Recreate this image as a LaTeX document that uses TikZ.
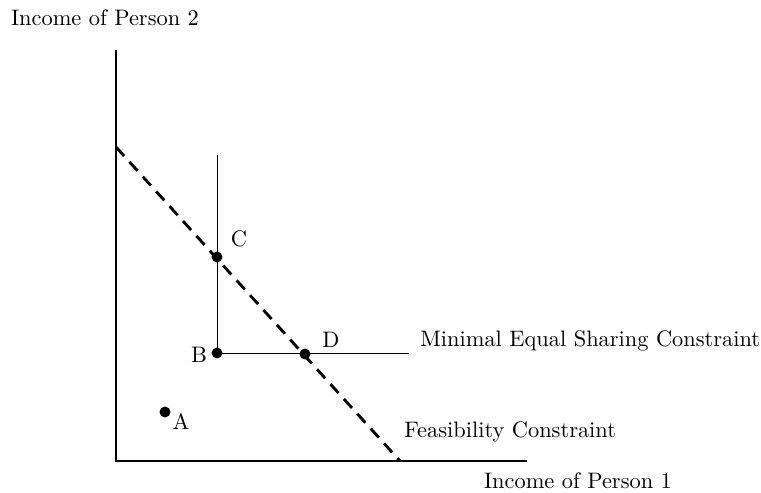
\documentclass[tikz,border=0pt]{standalone}
\usetikzlibrary{positioning}
\begin{document}
\begin{tikzpicture}[
        x=0.016cm,
        y=-0.016cm,
        % styles
        axis/.style={line width=1.3pt},
        budget/.style={line width=1.3pt,dash pattern=on 5.5pt off 3.6pt},
        constraint/.style={line width=0.45pt},
        dot/.style={circle,fill=black,inner sep=0pt,minimum size=5pt},
        lbl/.style={inner sep=0pt,font=\fontsize{10.2pt}{12pt}\selectfont},
    ]
    \useasboundingbox (0,0) rectangle (761,493);

    % axes
    \coordinate (O) at (116,461);
    \coordinate (Ytop) at (116,50);
    \coordinate (Xend) at (527,461);
    \draw[axis] (Ytop) -- (O) -- (Xend);
    \node[lbl] (ylab) at (105,18) {Income of Person 2};
    \node[lbl] (xlab) at (578,481) {Income of Person 1};

    % feasibility constraint
    \coordinate (F0) at (116,147);
    \coordinate (F1) at (400,461);
    \draw[budget] (F0) -- (F1);
    \node[lbl,anchor=west] (flab) at (404,432) {Feasibility Constraint};

    % minimal equal sharing constraint
    \coordinate (Vtop) at (217,155);
    \coordinate (Hend) at (409,353);
    \node[dot] (B) at (217,353) {};
    \draw[constraint] (Vtop) -- (B.center) -- (Hend);
    \node[lbl,anchor=west] (mlab) at (420,341) {Minimal Equal Sharing Constraint};

    % points
    \node[dot] (A) at (165,412) {};
    \node[dot] (C) at (217,257) {};
    \node[dot] (D) at (305,354) {};
    \node[lbl] at (181,421) {A};
    \node[lbl] at (199,355) {B};
    \node[lbl] at (239,239) {C};
    \node[lbl] at (331,340) {D};
\end{tikzpicture}
\end{document}
